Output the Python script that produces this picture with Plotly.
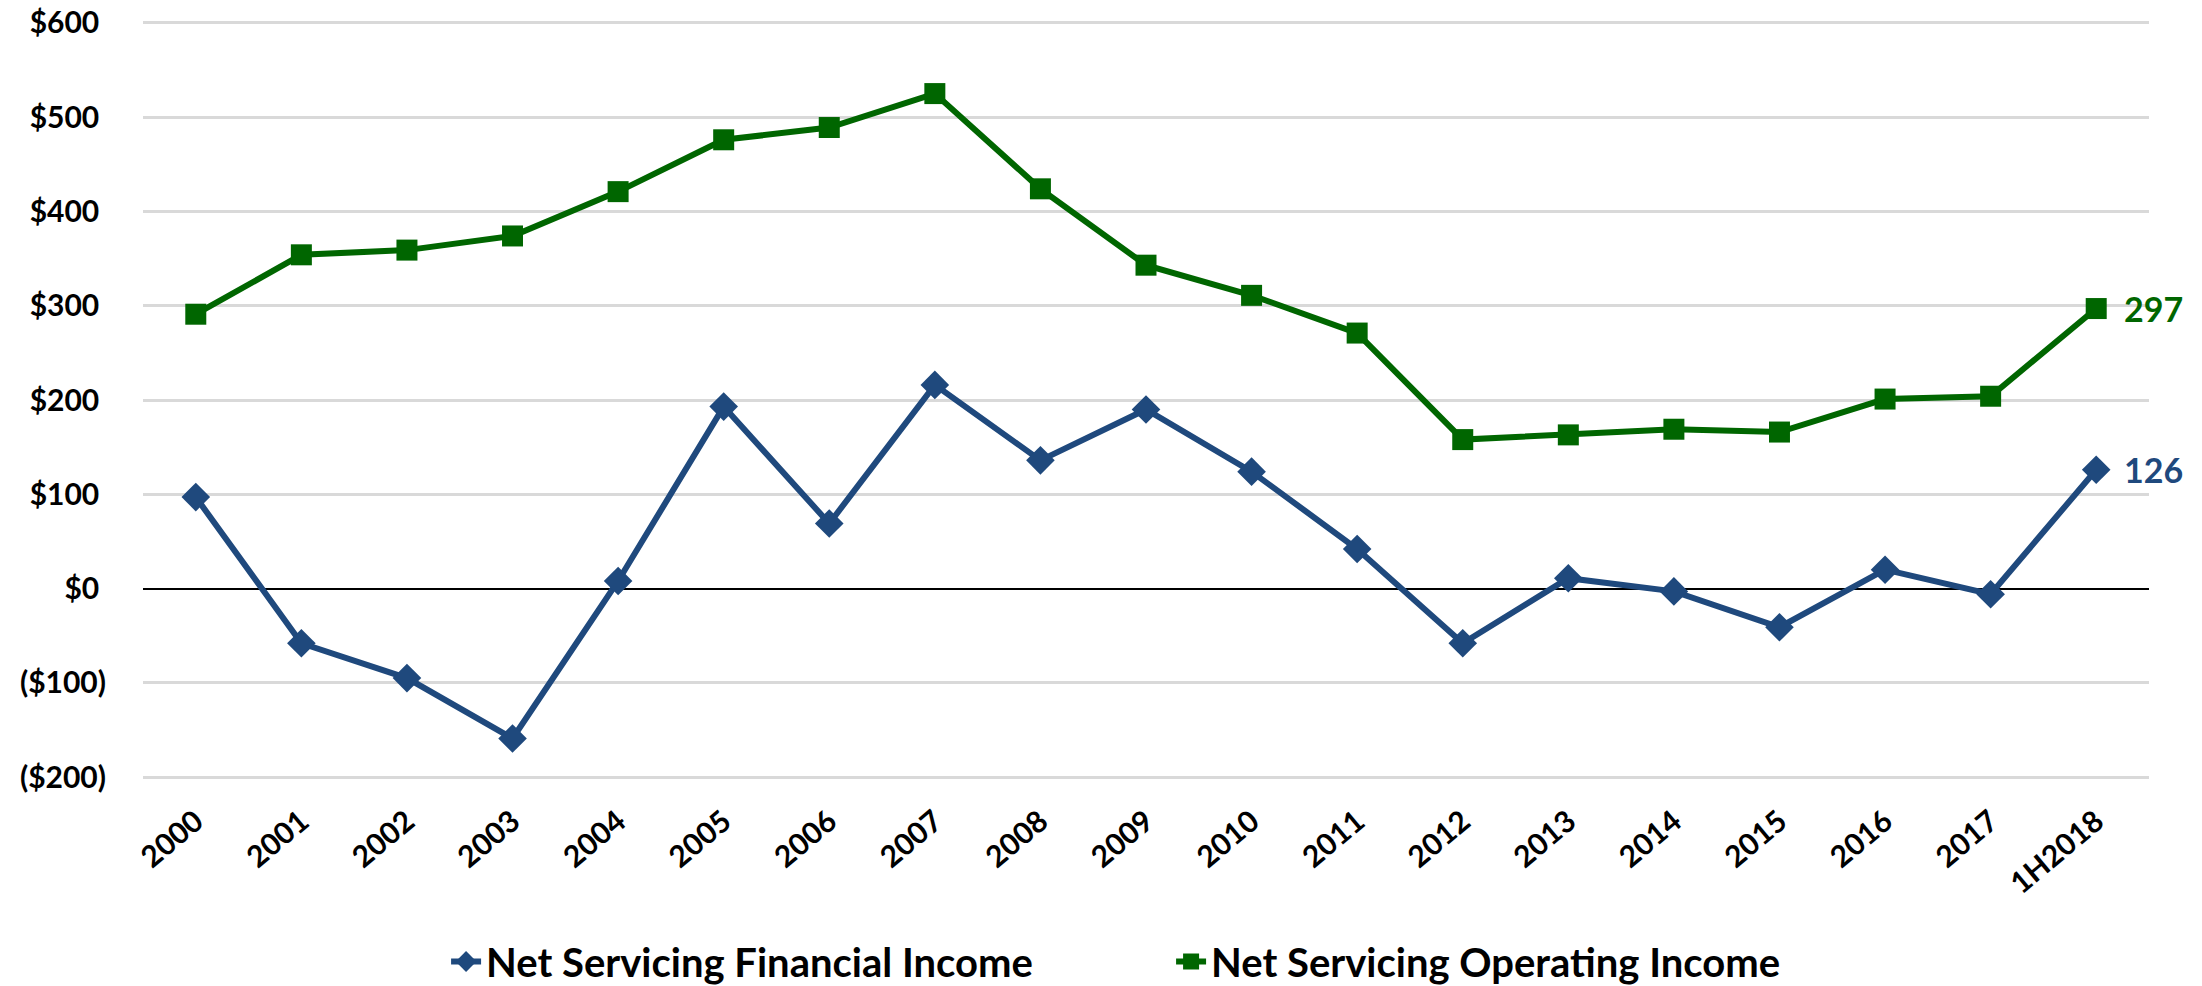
import plotly.graph_objects as go

categories = ["2000", "2001", "2002", "2003", "2004", "2005", "2006", "2007", "2008", "2009",
              "2010", "2011", "2012", "2013", "2014", "2015", "2016", "2017", "1H2018"]
financial_income = [97, -58, -95, -159, 8, 193, 69, 216, 136, 190,
                    124, 42, -58, 11, -3, -41, 20, -6, 126]
operating_income = [291, 354, 359, 374, 421, 476, 489, 525, 424, 343,
                    311, 271, 158, 163, 169, 166, 201, 204, 297]
y_tick_vals = [600, 500, 400, 300, 200, 100, 0, -100, -200]
y_tick_text = ["$600", "$500", "$400", "$300", "$200", "$100", "$0", "($100)", "($200)"]

BLUE = "#1F497D"
GREEN = "#006600"
FONT = "Lato"

# Excel-style accounting format: positives get a trailing space the width of ")"
y_tick_labels = [t if t.startswith("(") else t + "\u2008" for t in y_tick_text]

fig = go.Figure()
fig.add_trace(go.Scatter(
    x=categories, y=financial_income, name="Net Servicing Financial Income",
    mode="lines+markers",
    line=dict(color=BLUE, width=6),
    marker=dict(symbol="diamond", size=22, color=BLUE),
))
fig.add_trace(go.Scatter(
    x=categories, y=operating_income, name="Net Servicing Operating Income",
    mode="lines+markers",
    line=dict(color=GREEN, width=6),
    marker=dict(symbol="square", size=21, color=GREEN),
))

for vals, col in ((financial_income, BLUE), (operating_income, GREEN)):
    fig.add_annotation(x=categories[-1], y=vals[-1], text=str(vals[-1]),
                       xanchor="left", yanchor="middle", xshift=26, showarrow=False,
                       font=dict(family=FONT, size=34, color=col, weight="bold"))

fig.update_layout(
    width=2202, height=986,
    margin=dict(l=143, r=53, t=21, b=207, autoexpand=False),
    paper_bgcolor="white", plot_bgcolor="white",
    showlegend=True,
    legend=dict(orientation="h", x=0.5125, xanchor="center", y=-215 / 758, yanchor="bottom",
                font=dict(family=FONT, size=40, color="black", weight="bold"),
                itemwidth=30, entrywidth=680, entrywidthmode="pixels"),
    xaxis=dict(type="category", range=[-0.5, 18.5], tickangle=-40,
               showgrid=False, showline=False, ticks="", ticklabelstandoff=18,
               tickfont=dict(family=FONT, size=30, color="black", weight="bold")),
    yaxis=dict(range=[-202, 602], tickvals=y_tick_vals, ticktext=y_tick_labels,
               showgrid=True, gridcolor="#D9D9D9", gridwidth=2.5,
               zeroline=True, zerolinecolor="black", zerolinewidth=2,
               showline=False, ticks="", ticklabelstandoff=36,
               tickfont=dict(family=FONT, size=30, color="black", weight="bold")),
)

fig.write_html("out.html", config={"displayModeBar": False},
               post_script="document.body.style.margin='0px';")
